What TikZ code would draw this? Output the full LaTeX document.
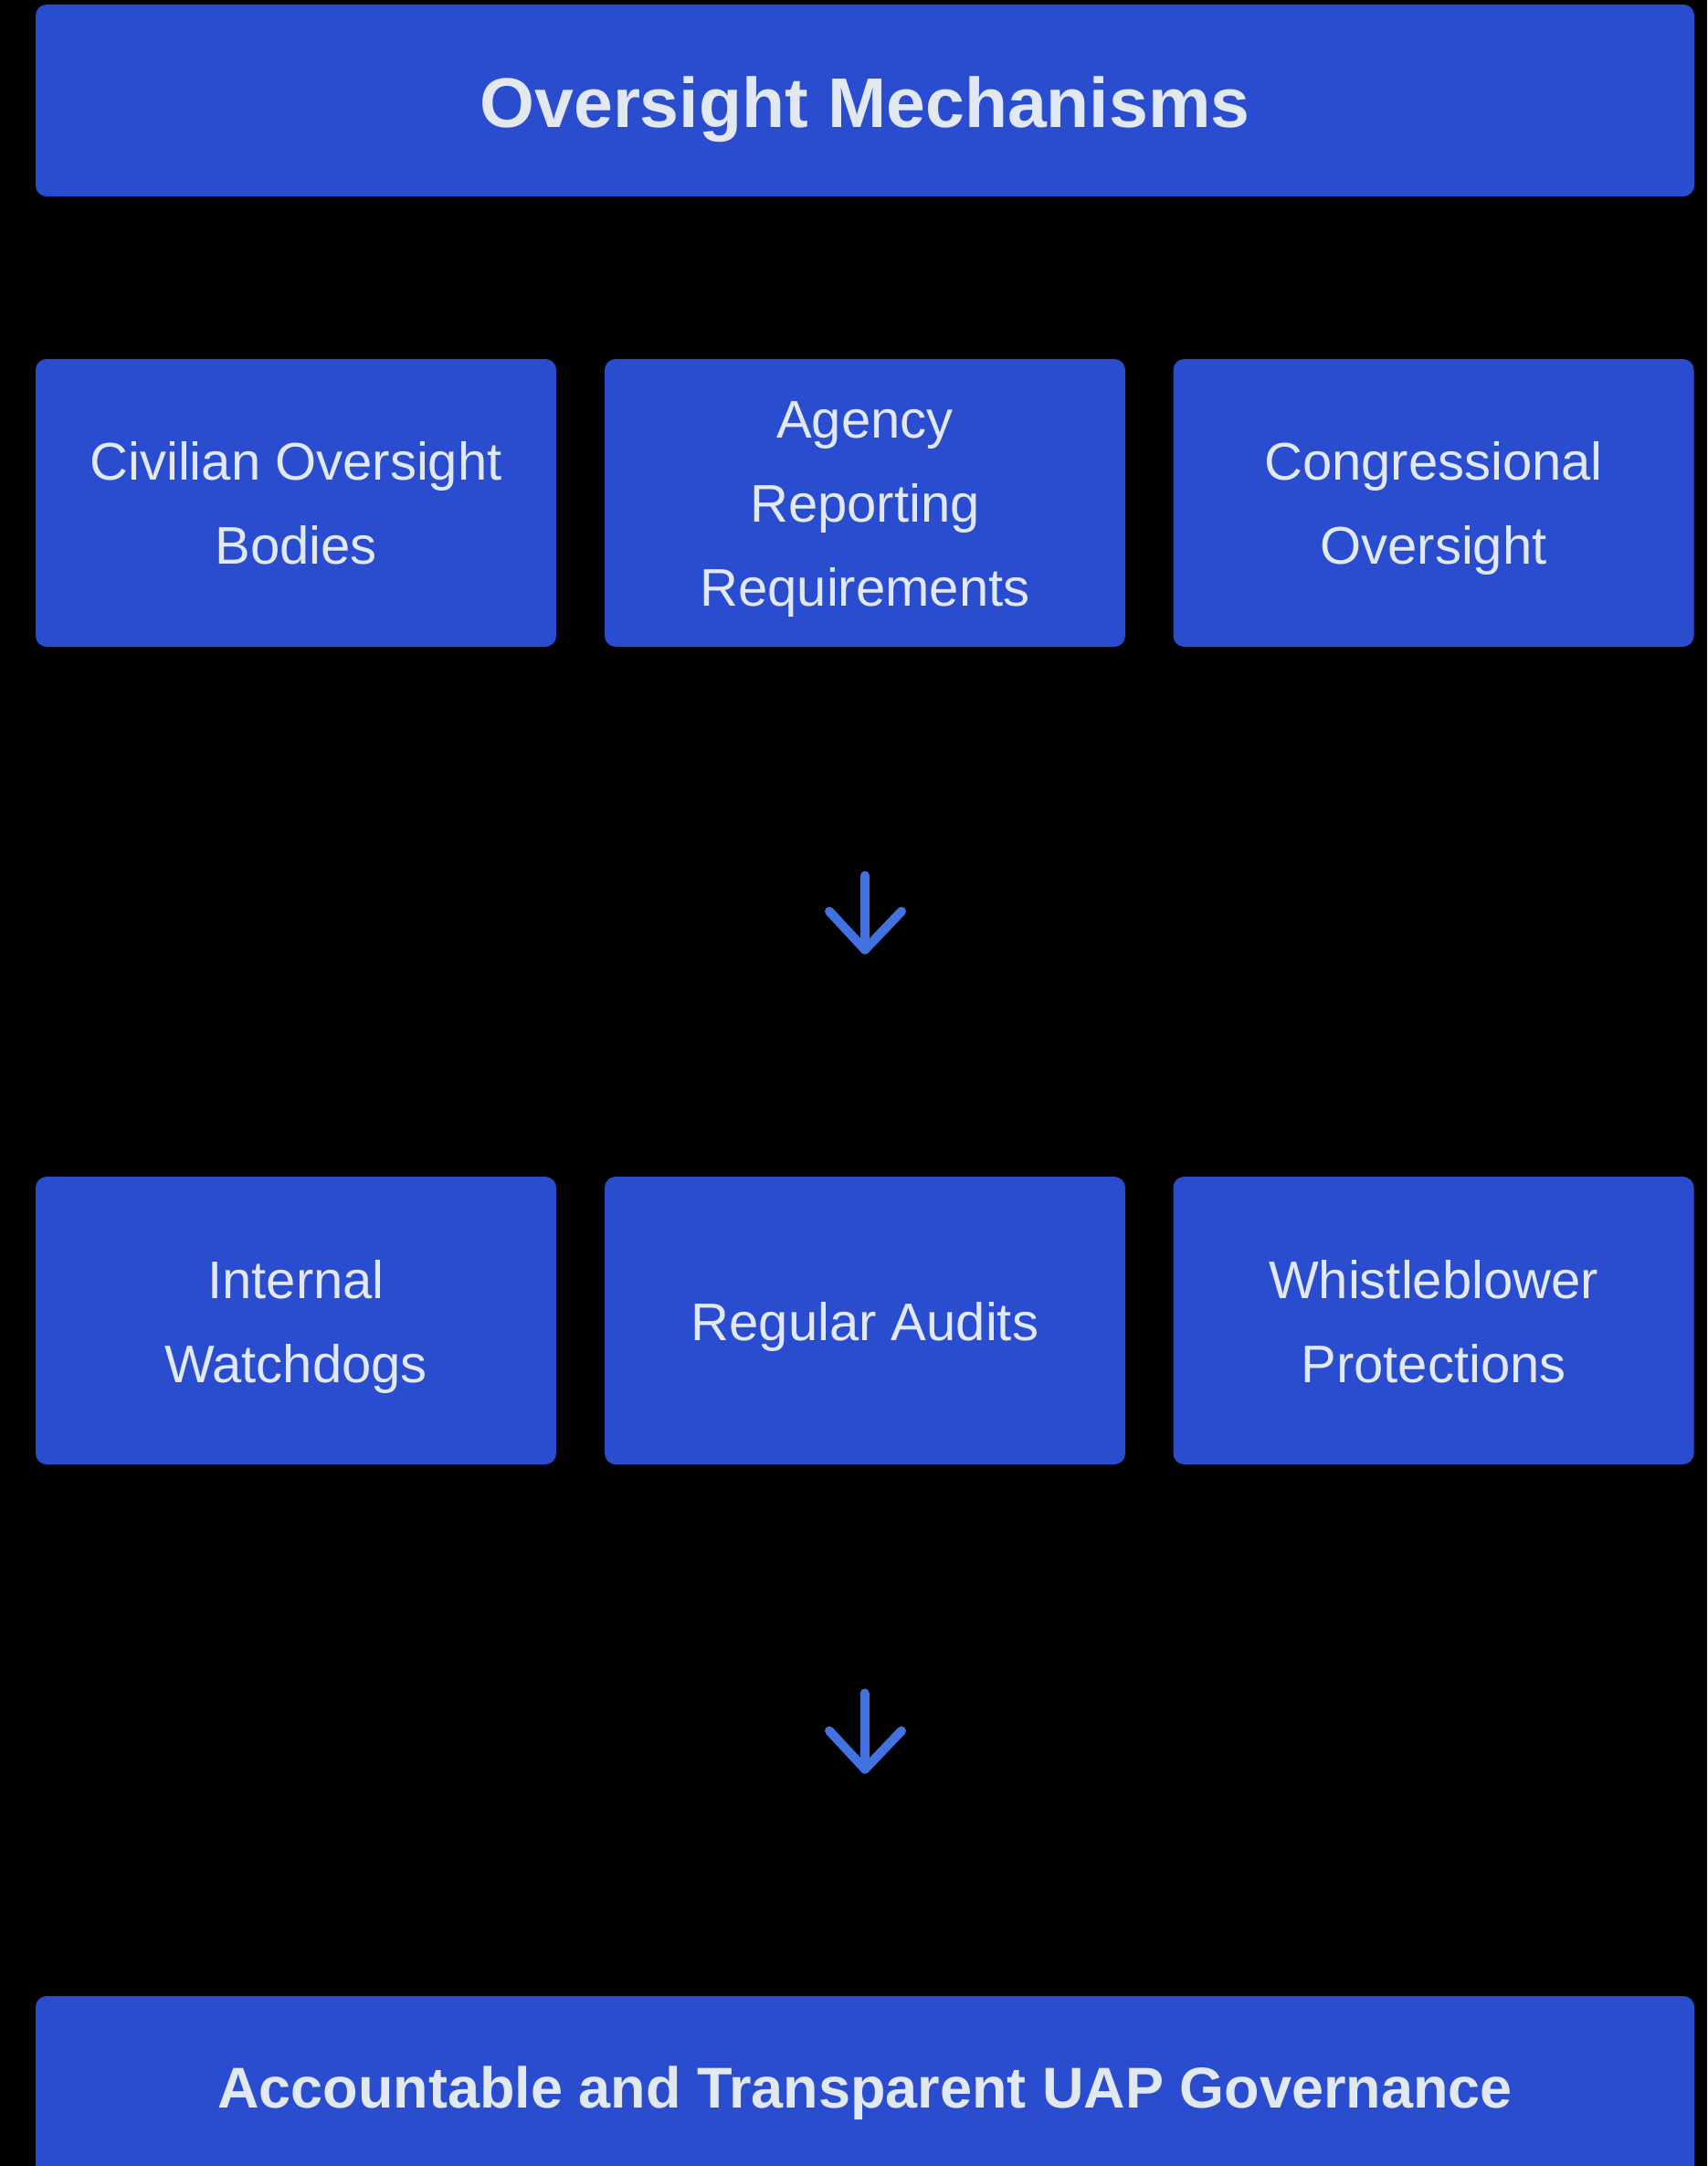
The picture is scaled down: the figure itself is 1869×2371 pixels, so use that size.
\documentclass[tikz,border=0pt]{standalone}
\usepackage{fontspec}
\setmainfont{Liberation Sans}
\usetikzlibrary{calc}
\definecolor{boxblue}{HTML}{294DCE}
\definecolor{txtgray}{HTML}{E2E8F0}
\definecolor{arrowblue}{HTML}{4272E0}
\tikzset{
  card/.style={fill=boxblue, draw=none, rounded corners=6pt, inner sep=0pt,
    minimum width=285pt, minimum height=157.5pt},
  cardtext/.style={text=txtgray, align=center, inner sep=0pt,
    font=\fontsize{29}{46}\selectfont},
  banner/.style={fill=boxblue, draw=none, rounded corners=6pt, inner sep=0pt,
    minimum width=908pt},
  bannertext/.style={text=txtgray, align=center, inner sep=0pt},
  flowarrow/.style={draw=arrowblue, line width=5pt, line cap=round, line join=round}
}
\begin{document}
\begin{tikzpicture}[x=0.5pt,y=-0.5pt]
\fill[black] (0,0) rectangle (1869,2371);
\useasboundingbox (0,0) rectangle (1869,2371);

\node[banner, minimum height=105pt] (title) at (947,110) {};
\node[bannertext, font=\bfseries\fontsize{38.5}{46}\selectfont] (titlet) at ($(title.center)+(0,10)$) {Oversight Mechanisms};

\node[card] (civ) at (324,550.5) {};
\node[card] (agency) at (947,550.5) {};
\node[card] (cong) at (1569.5,550.5) {};
\node[cardtext] (civt) at ($(civ.center)+(0,0)$) {Civilian Oversight\\Bodies};
\node[cardtext] (agencyt) at ($(agency.center)+(0,7)$) {Agency\\Reporting\\Requirements};
\node[cardtext] (congt) at ($(cong.center)+(0,6)$) {Congressional\\Oversight};

\node[card] (watch) at (324,1445.5) {};
\node[card] (audits) at (947,1445.5) {};
\node[card] (whistle) at (1569.5,1445.5) {};
\node[cardtext] (watcht) at ($(watch.center)+(0,7)$) {Internal\\Watchdogs};
\node[cardtext] (auditst) at ($(audits.center)+(0,7)$) {Regular Audits};
\node[cardtext] (whistlet) at ($(whistle.center)+(0,1)$) {Whistleblower\\Protections};

\node[banner, minimum height=100pt] (goal) at (947,2285) {};
\node[bannertext, font=\bfseries\fontsize{31.5}{40}\selectfont] (goalt) at ($(goal.center)+(0,6)$) {Accountable and Transparent UAP Governance};

% arrow 1
\coordinate (a1s) at ($(agency.south)+(0,250)$);
\coordinate (a1e) at ($(audits.north)+(0,-248)$);
\draw[flowarrow] (a1s) -- (a1e);
\draw[flowarrow] ($(a1e)+(-39,-42)$) -- (a1e) -- ($(a1e)+(40,-42)$);

% arrow 2
\coordinate (a2s) at ($(watch.south)!0.5!(whistle.south)+(0,250)$);
\coordinate (a2e) at ($(goal.north)+(0,-248)$);
\draw[flowarrow] (a2s) -- (a2e);
\draw[flowarrow] ($(a2e)+(-39,-42)$) -- (a2e) -- ($(a2e)+(40,-42)$);
\end{tikzpicture}
\end{document}
